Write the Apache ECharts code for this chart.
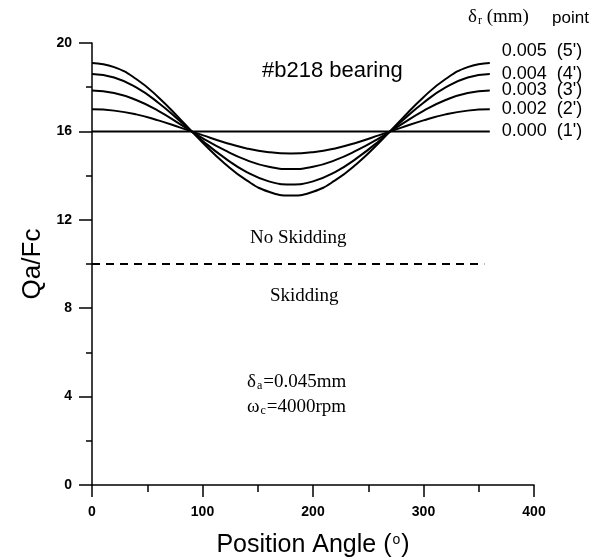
<!DOCTYPE html>
<html>
<head>
<meta charset="utf-8">
<script src="https://cdn.jsdelivr.net/npm/echarts@6/dist/echarts.min.js"></script>
<style>
  html, body { margin: 0; padding: 0; background: #fff; }
  #main { width: 600px; height: 560px; }
</style>
</head>
<body>
<div id="main"></div>
<script>
// position angle (deg)
var angles = [0, 20, 40, 60, 80, 100, 120, 140, 160, 180, 200, 220, 240, 260, 280, 300, 320, 340, 360]
// Qa/Fc, one array per radial clearance
var q000 = [16, 16, 16, 16, 16, 16, 16, 16, 16, 16, 16, 16, 16, 16, 16, 16, 16, 16, 16]
var q002 = [17.0, 16.94, 16.77, 16.5, 16.17, 15.83, 15.5, 15.23, 15.06, 15.0, 15.06, 15.23, 15.5, 15.83, 16.17, 16.5, 16.77, 16.94, 17.0]
var q003 = [17.85, 17.74, 17.42, 16.93, 16.32, 15.7, 15.15, 14.7, 14.4, 14.3, 14.4, 14.7, 15.15, 15.7, 16.32, 16.93, 17.42, 17.74, 17.85]
var q004 = [18.6, 18.44, 17.99, 17.3, 16.45, 15.58, 14.8, 14.16, 13.74, 13.6, 13.74, 14.16, 14.8, 15.58, 16.45, 17.3, 17.99, 18.44, 18.6]
var q005 = [19.1, 18.91, 18.37, 17.55, 16.54, 15.5, 14.55, 13.78, 13.27, 13.1, 13.27, 13.78, 14.55, 15.5, 16.54, 17.55, 18.37, 18.91, 19.1]
var deltaLabels = ['0.000', '0.002', '0.003', '0.004', '0.005']
var pointLabels = ["(1')", "(2')", "(3')", "(4')", "(5')"]
// skidding limit line
var limitX = [0, 355]
var limitY = [10, 10]

var myChart = echarts.init(document.getElementById('main'))

function pairs (xs, ys) {
  return xs.map(function (x, i) { return [x, ys[i]] })
}

var curves = [q000, q002, q003, q004, q005]
var series = curves.map(function (ys, i) {
  return {
    name: deltaLabels[i],
    type: 'line',
    smooth: 0.5,
    symbol: 'none',
    data: pairs(angles, ys),
    lineStyle: { color: '#000', width: 2 },
    endLabel: {
      show: true,
      distance: 12,
      offset: i === 4 ? [0, -12] : [0, 0],
      formatter: deltaLabels[i] + '  ' + pointLabels[i],
      fontFamily: 'Liberation Sans, Arial',
      fontSize: 18,
      color: '#000'
    },
    silent: true
  }
})
series.push({
  name: 'limit',
  type: 'line',
  symbol: 'none',
  data: pairs(limitX, limitY),
  lineStyle: { color: '#000', width: 2, type: [8, 6] },
  silent: true
})

var option = {
  animation: false,
  backgroundColor: '#fff',
  grid: { left: 92, right: 66, top: 43, bottom: 75, outerBoundsMode: 'none', containLabel: false },
  xAxis: {
    type: 'value',
    min: 0,
    max: 400,
    interval: 100,
    name: '{n|Position Angle (}{s|o}{n|)}',
    nameLocation: 'middle',
    nameGap: 48,
    nameTextStyle: {
      rich: {
        n: { fontFamily: 'Liberation Sans, Arial', fontSize: 25, color: '#000' },
        s: { fontFamily: 'Liberation Sans, Arial', fontSize: 14, color: '#000', verticalAlign: 'top', padding: [0, 1, 10, 1] }
      }
    },
    axisLine: { onZero: false, lineStyle: { color: '#000', width: 1.5 } },
    axisTick: { length: 12, lineStyle: { color: '#000', width: 1.5 } },
    minorTick: { show: true, splitNumber: 2, length: 7, lineStyle: { color: '#000', width: 1.5 } },
    splitLine: { show: false },
    axisLabel: { margin: 20, fontFamily: 'Liberation Sans, Arial', fontWeight: 'bold', fontSize: 14, color: '#000' }
  },
  yAxis: {
    type: 'value',
    min: 0,
    max: 20,
    interval: 4,
    name: 'Qa/Fc',
    nameLocation: 'middle',
    nameGap: 37,
    nameTextStyle: { fontFamily: 'Liberation Sans, Arial', fontSize: 26, color: '#000' },
    axisLine: { onZero: false, lineStyle: { color: '#000', width: 1.5 } },
    axisTick: { length: 13, lineStyle: { color: '#000', width: 1.5 } },
    minorTick: { show: true, splitNumber: 2, length: 6, lineStyle: { color: '#000', width: 1.5 } },
    splitLine: { show: false },
    axisLabel: { margin: 20, fontFamily: 'Liberation Sans, Arial', fontWeight: 'bold', fontSize: 14, color: '#000' }
  },
  graphic: [
    {
      type: 'text', left: 468, top: 8,
      style: {
        text: '{d|δ}{s|r}{d| (mm)}',
        rich: {
          d: { fontFamily: 'Liberation Serif', fontSize: 19, fill: '#000' },
          s: { fontFamily: 'Liberation Serif', fontSize: 12, fill: '#000', verticalAlign: 'bottom', padding: [6, 0, 0, 1] }
        }
      }
    },
    { type: 'text', left: 552, top: 10, style: { text: 'point', fontFamily: 'Liberation Sans, Arial', fontSize: 17, fill: '#000' } },
    { type: 'text', left: 262, top: 60, style: { text: '#b218 bearing', fontFamily: 'Liberation Sans, Arial', fontSize: 22, fill: '#000' } },
    { type: 'text', left: 250, top: 229, style: { text: 'No Skidding', fontFamily: 'Liberation Serif', fontSize: 19, fill: '#000' } },
    { type: 'text', left: 270, top: 287, style: { text: 'Skidding', fontFamily: 'Liberation Serif', fontSize: 19, fill: '#000' } },
    {
      type: 'text', left: 247, top: 373,
      style: {
        text: '{d|δ}{s|a}{d|=0.045mm}',
        rich: {
          d: { fontFamily: 'Liberation Serif', fontSize: 19, fill: '#000' },
          s: { fontFamily: 'Liberation Serif', fontSize: 12, fill: '#000', verticalAlign: 'bottom', padding: [6, 1, 0, 1] }
        }
      }
    },
    {
      type: 'text', left: 247, top: 398,
      style: {
        text: '{d|ω}{s|c}{d|=4000rpm}',
        rich: {
          d: { fontFamily: 'Liberation Serif', fontSize: 19, fill: '#000' },
          s: { fontFamily: 'Liberation Serif', fontSize: 12, fill: '#000', verticalAlign: 'bottom', padding: [6, 1, 0, 1] }
        }
      }
    }
  ],
  series: series
}
myChart.setOption(option)
</script>
</body>
</html>
